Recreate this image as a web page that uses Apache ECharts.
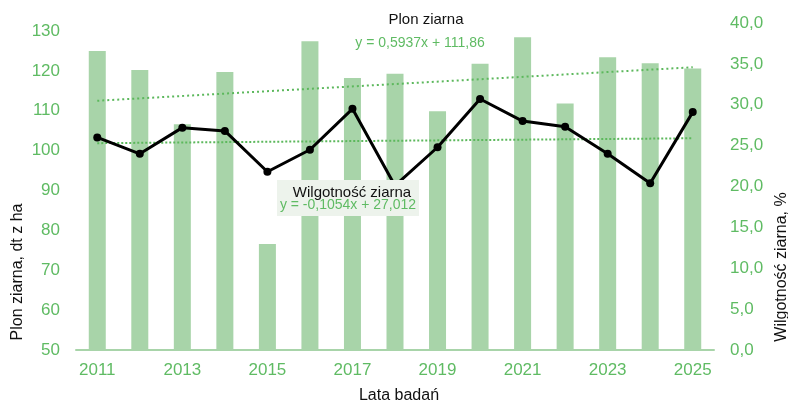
<!DOCTYPE html>
<html>
<head>
<meta charset="utf-8">
<script src="https://cdn.jsdelivr.net/npm/echarts@6/dist/echarts.min.js"></script>
<style>html,body{margin:0;padding:0;background:#fff}#c{width:788px;height:404px}</style>
</head>
<body>
<div id="c"></div>
<script>
const years = ['2011','2012','2013','2014','2015','2016','2017','2018','2019','2020','2021','2022','2023','2024','2025'];
const yieldValues = [125.0,120.2,106.6,119.7,76.6,127.4,118.2,119.3,109.9,121.8,128.4,111.8,123.4,121.9,120.6];
const moistureValues = [26.0,24.0,27.2,26.8,21.8,24.5,29.5,20.1,24.8,30.7,28.0,27.3,24.0,20.4,29.1];
const yieldTrendEnds = [112.5,120.9];
const moistureTrendEnds = [25.3,25.9];
const yieldTitle = 'Plon ziarna';
const yieldEquation = 'y = 0,5937x + 111,86';
const moistureTitle = 'Wilgotność ziarna';
const moistureEquation = 'y = -0,1054x + 27,012';

const GREEN_TXT = '#5fbb63';
const BAR = '#a8d4a9';
const TREND = '#5cb85c';
const FONT = 'Liberation Sans, Arial, sans-serif';

const chart = echarts.init(document.getElementById('c'), null, {renderer:'canvas'});
chart.setOption({
  animation:false,
  textStyle:{fontFamily:FONT},
  grid:{left:76,right:74,top:23,bottom:54,containLabel:false},
  xAxis:{
    type:'category',data:years,boundaryGap:true,
    axisLine:{lineStyle:{color:'#a8d4a9',width:2}},
    axisTick:{show:false},
    axisLabel:{interval:1,color:GREEN_TXT,fontSize:17,margin:12,fontFamily:FONT}
  },
  yAxis:[
    {type:'value',min:50,max:132,interval:10,
     splitLine:{show:false},axisLine:{show:false},axisTick:{show:false},
     axisLabel:{color:GREEN_TXT,fontSize:17,margin:16,fontFamily:FONT,showMaxLabel:false,
       formatter:v=> (v%10===0 ? String(v) : '')}},
    {type:'value',min:0,max:40,interval:5,position:'right',
     splitLine:{show:false},axisLine:{show:false},axisTick:{show:false},
     axisLabel:{color:GREEN_TXT,fontSize:17,margin:16,fontFamily:FONT,
       formatter:v=>v.toFixed(1).replace('.',',')}}
  ],
  series:[
    {type:'bar',name:yieldTitle,data:yieldValues,yAxisIndex:0,barWidth:17,
     itemStyle:{color:BAR},z:1},
    {type:'line',name:'trendYield',yAxisIndex:0,symbol:'none',silent:true,
     data:[[years[0],yieldTrendEnds[0]],[years[years.length-1],yieldTrendEnds[1]]],
     lineStyle:{color:TREND,width:2,type:[2,3]},z:2},
    {type:'line',name:'trendMoisture',yAxisIndex:1,symbol:'none',silent:true,
     data:[[years[0],moistureTrendEnds[0]],[years[years.length-1],moistureTrendEnds[1]]],
     lineStyle:{color:TREND,width:2,type:[2,2]},z:2},
    {type:'line',name:moistureTitle,data:moistureValues,yAxisIndex:1,
     symbol:'circle',symbolSize:8,itemStyle:{color:'#000'},
     lineStyle:{color:'#000',width:3},z:3}
  ],
  graphic:[
    {type:'rect',shape:{x:277,y:180,width:142,height:36},style:{fill:'#edf3ec'},z:50},
    {type:'text',x:352,y:193,z:51,style:{text:moistureTitle,fill:'#111',font:'15px '+FONT,textAlign:'center',textVerticalAlign:'middle'}},
    {type:'text',x:348,y:205,z:51,style:{text:moistureEquation,fill:GREEN_TXT,font:'14px '+FONT,textAlign:'center',textVerticalAlign:'middle'}},
    {type:'text',x:426,y:20,z:51,style:{text:yieldTitle,fill:'#111',font:'15px '+FONT,textAlign:'center',textVerticalAlign:'middle'}},
    {type:'text',x:420,y:43,z:51,style:{text:yieldEquation,fill:GREEN_TXT,font:'14px '+FONT,textAlign:'center',textVerticalAlign:'middle'}},
    {type:'text',x:18,y:272,rotation:Math.PI/2,z:51,style:{text:'Plon ziarna, dt z ha',fill:'#111',font:'16px '+FONT,textAlign:'center',textVerticalAlign:'middle'}},
    {type:'text',x:782,y:267,rotation:Math.PI/2,z:51,style:{text:'Wilgotność ziarna, %',fill:'#111',font:'16px '+FONT,textAlign:'center',textVerticalAlign:'middle'}},
    {type:'text',x:399,y:396,z:51,style:{text:'Lata badań',fill:'#111',font:'16px '+FONT,textAlign:'center',textVerticalAlign:'middle'}}
  ]
});
</script>
</body>
</html>
